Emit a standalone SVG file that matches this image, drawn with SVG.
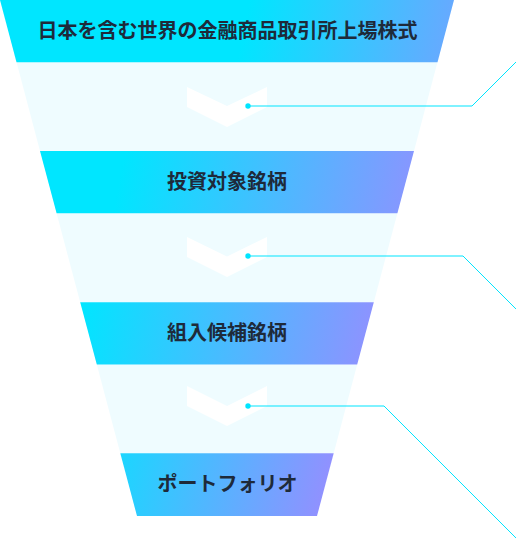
<svg xmlns="http://www.w3.org/2000/svg" width="516" height="538" viewBox="0 0 516 538">
  <style>
    .label { font-family: "Noto Sans CJK JP", "Noto Sans CJK SC", "Noto Sans", sans-serif; font-size: 20px; font-weight: 700; fill: #1E2A3A; text-anchor: middle; }
    .gap { fill: #EFFCFF; }
    .chev { fill: #FFFFFF; }
    .line { fill: none; stroke: #00E5FF; stroke-width: 1; }
    .dot { fill: #00E5FF; }
  </style>
  <defs>
    <linearGradient id="g1" gradientUnits="userSpaceOnUse" x1="250" y1="0" x2="550" y2="62">
      <stop offset="0" stop-color="#00E6FF"/>
      <stop offset="1" stop-color="#9C8AFF"/>
    </linearGradient>
    <linearGradient id="g2" gradientUnits="userSpaceOnUse" x1="125" y1="151" x2="450" y2="213">
      <stop offset="0" stop-color="#00E6FF"/>
      <stop offset="1" stop-color="#9C8AFF"/>
    </linearGradient>
    <linearGradient id="g3" gradientUnits="userSpaceOnUse" x1="80" y1="302" x2="395" y2="365">
      <stop offset="0" stop-color="#00E6FF"/>
      <stop offset="1" stop-color="#9C8AFF"/>
    </linearGradient>
    <linearGradient id="g4" gradientUnits="userSpaceOnUse" x1="70" y1="453" x2="340" y2="516">
      <stop offset="0" stop-color="#00E6FF"/>
      <stop offset="1" stop-color="#9C8AFF"/>
    </linearGradient>
  </defs>

  <g id="funnel-gaps">
    <polygon class="gap" points="16.5,62 437.5,62 414,151 40,151"/>
    <polygon class="gap" points="56.6,213.3 397.4,213.3 373.8,302.3 80.2,302.3"/>
    <polygon class="gap" points="96.8,364.6 357.2,364.6 333.7,453.3 120.3,453.3"/>
  </g>

  <g id="node-1">
    <polygon points="0,0 454,0 437.5,62.3 16.5,62.3" fill="url(#g1)"/>
    <text class="label" x="227.5" y="38">日本を含む世界の金融商品取引所上場株式</text>
  </g>
  <g id="node-2">
    <polygon points="40,151 414,151 397.4,213.3 56.6,213.3" fill="url(#g2)"/>
    <text class="label" x="227" y="189">投資対象銘柄</text>
  </g>
  <g id="node-3">
    <polygon points="80.2,302.3 373.8,302.3 357.2,364.6 96.8,364.6" fill="url(#g3)"/>
    <text class="label" x="227" y="340">組入候補銘柄</text>
  </g>
  <g id="node-4">
    <polygon points="120.3,453.3 333.7,453.3 317,516 137,516" fill="url(#g4)"/>
    <text class="label" x="227.5" y="491">ポートフォリオ</text>
  </g>

  <g id="connectors">
    <polygon class="chev" points="187,87 227,106 267,87 267,107 227,127 187,107"/>
    <polygon class="chev" points="187,237 227,256.5 267,237 267,257 227,277 187,257"/>
    <polygon class="chev" points="187,386 227,406 267,386 267,406 227,426 187,406"/>

    <path class="line" d="M248,106 H472 L518,60"/>
    <path class="line" d="M248,256 H463 L518,311"/>
    <path class="line" d="M248,406 H384 L518,540"/>
    <circle class="dot" cx="248" cy="106" r="2.7"/>
    <circle class="dot" cx="248" cy="256" r="2.7"/>
    <circle class="dot" cx="248" cy="406" r="2.7"/>
  </g>
</svg>
